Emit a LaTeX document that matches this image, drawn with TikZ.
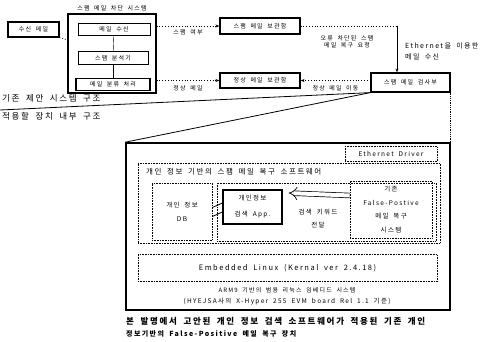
\documentclass[tikz,border=0pt]{standalone}
\usepackage{fontspec}
\setmainfont[LetterSpace=20, WordSpace=1.8]{Noto Sans CJK KR}
\usetikzlibrary{arrows.meta,positioning}

\tikzset{
  box/.style={draw, line width=1.2pt, inner sep=0pt, align=center, font=\fontsize{6}{7}\selectfont},
  subbox/.style={draw, line width=0.6pt, inner sep=0pt, align=center, font=\fontsize{6}{7}\selectfont},
  dotbox/.style={draw, densely dotted, line width=0.6pt, inner sep=0pt, align=center},
  lbl/.style={inner sep=0pt, align=center, font=\fontsize{6}{7.5}\selectfont},
  biglbl/.style={inner sep=0pt, anchor=west, font=\fontsize{8.5}{11}\selectfont},
}

\begin{document}
\begin{tikzpicture}[x=1pt, y=-1pt, >={Stealth[length=4pt]}]
\useasboundingbox (0,0) rectangle (496,341);

% 기존 제안 시스템
\node[lbl] (systitle) at (112,8) {스팸 메일 차단 시스템};
\node[box, minimum width=51, minimum height=15] (inmail) at (33.5,29.5) {수신 메일};
\node[draw, line width=1.2pt, minimum width=88, minimum height=79] (sys) at (112,53.5) {};
\node[subbox, minimum width=72, minimum height=12] (recv) at (114,29) {메일 수신};
\node[subbox, minimum width=70, minimum height=13] (anal) at (113,58) {스팸 분석기};
\node[box, minimum width=74, minimum height=12] (sort) at (113,84.5) {메일 분류 처리};
\draw (recv) -- (anal);
\draw (anal) -- (sort);
\draw[dotted, thick] (inmail) -- (sys);

% 보관함과 검사부
\node[box, minimum width=80, minimum height=16] (spambox) at (260,26) {스팸 메일 보관함};
\node[box, minimum width=80, minimum height=15] (hambox) at (260,80.5) {정상 메일 보관함};
\node[box, minimum width=79, minimum height=19] (check) at (410.5,82.5) {스팸 메일 검사부};

\draw[dotted, thick, ->] (sys.east |- spambox) -- (spambox)
  node[lbl, midway, below=3pt] {스팸 여부};
\draw[dotted, thick, ->] (sys.east |- hambox) -- (hambox)
  node[lbl, midway, below=5pt] {정상 메일};
\draw[dotted, thick, ->] (check.west |- hambox) -- (hambox)
  node[lbl, midway, below=5pt] {정상 메일 이동};

\coordinate (turn) at (397,26);
\draw[dotted, thick] (spambox) -- (turn);
\draw[thick, ->] (turn) -- (turn |- check.north);
\node[lbl] (reqlbl) at (347,42) {오류 차단된 스팸\\메일 복구 요청};
\node[lbl, anchor=west, align=left, font=\fontsize{7}{11}\selectfont] (ethlbl) at (405,51) {Ethernet을 이용한\\메일 수신};

% 구분선
\node[biglbl] (oldlbl) at (2,98) {기존 제안 시스템 구조};
\node[biglbl] (newlbl) at (2,116) {적용할 장치 내부 구조};
\coordinate (cutl) at (0,110);
\draw[thick] (cutl) -- (check.south west);

% 적용할 장치
\node[draw, line width=1.6pt, minimum width=324, minimum height=167] (dev) at (288,226.5) {};
\draw[thick] (dev.north west) -- (check.south west);
\draw[densely dotted, thick] (check.south east) -- (check.south east |- dev.north);

\node[dotbox, minimum width=92, minimum height=15, font=\fontsize{6.5}{7}\selectfont] (eth) at (391,154) {Ethernet Driver};
\node[dotbox, minimum width=302, minimum height=80] (sw) at (289,203) {};
\node[lbl, anchor=west, font=\fontsize{7.5}{8}\selectfont] (swtitle) at (146,172) {개인 정보 기반의 스팸 메일 복구 소프트웨어};
\node[dotbox, minimum width=60, minimum height=57, font=\fontsize{6.5}{14}\selectfont] (db) at (182,211.5) {개인 정보\\DB};
\node[dotbox, minimum width=219, minimum height=58] (appzone) at (326.5,212) {};
\node[box, minimum width=59, minimum height=34, font=\fontsize{6.5}{16}\selectfont] (app) at (252.5,207) {개인정보\\검색 App.};
\node[dotbox, minimum width=82, minimum height=57, font=\fontsize{6.5}{13.5}\selectfont] (fp) at (391,209.5) {기존\\False-Postive\\메일 복구\\시스템};

\draw[thick] ([yshift=4pt]db.east) -- ([yshift=4pt]app.west);
\draw[thick] ([yshift=-5pt]db.east) -- ([yshift=-5pt]app.west);
\draw[double, double distance=4pt, line width=0.7pt, -{Implies}] ([yshift=14pt]fp.west) -- ([yshift=14pt, xshift=6pt]app.east);
\node[lbl, font=\fontsize{6.5}{13}\selectfont] (kwlbl) at (318,218.5) {검색 키워드\\전달};

\node[dotbox, minimum width=299, minimum height=27, font=\fontsize{7.5}{9}\selectfont] (linux) at (287.5,268) {Embedded Linux (Kernal ver 2.4.18)};
\node[lbl] (armlbl) at (287,290) {ARM9 기반의 범용 리눅스 임베디드 시스템};
\node[lbl, font=\fontsize{6.5}{7.5}\selectfont] (boardlbl) at (287,301.5) {(HYEJSA사의 X-Hyper 255 EVM board Rel 1.1 기준)};

% 설명
\node[biglbl, font=\bfseries\fontsize{8.5}{10}\selectfont] (cap1) at (126,321) {본 발명에서 고안된 개인 정보 검색 소프트웨어가 적용된 기존 개인};
\node[biglbl, font=\bfseries\fontsize{7}{8}\selectfont] (cap2) at (126,334) {정보기반의 False-Positive 메일 복구 장치};
\end{tikzpicture}
\end{document}
